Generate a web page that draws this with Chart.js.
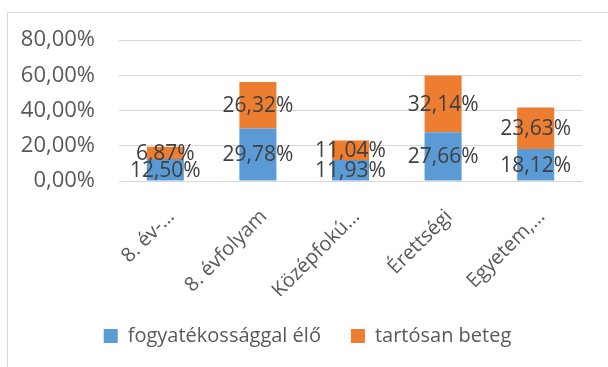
<!DOCTYPE html>
<html lang="hu">
<head>
<meta charset="utf-8">
<script src="https://cdn.jsdelivr.net/npm/chart.js@4/dist/chart.umd.min.js"></script>
<style>
  html, body { margin: 0; padding: 0; background: #fff; }
  #wrap { position: relative; width: 608px; height: 367px; }
</style>
</head>
<body>
<div id="wrap"><canvas id="chart" width="608" height="367"></canvas></div>
<script>
// iskolai végzettség szerinti megoszlás
const categories = ['8. év-…', '8. évfolyam', 'Középfokú…', 'Érettségi', 'Egyetem,…'];
const fogyatekkalElo = [12.50, 29.78, 11.93, 27.66, 18.12];
const tartosanBeteg = [6.87, 26.32, 11.04, 32.14, 23.63];
const yTicks = [0, 20, 40, 60, 80];

const FONT = "'Open Sans', 'Liberation Sans', sans-serif";

function szazalek(v) {
    return v.toFixed(2).replace('.', ',') + '%';
}

// keret a diagram körül
const keretPlugin = {
    id: 'keret',
    beforeDraw(chart) {
        const ctx = chart.ctx;
        ctx.save();
        ctx.fillStyle = '#ffffff';
        ctx.fillRect(0, 0, chart.width, chart.height);
        ctx.strokeStyle = '#d9d9d9';
        ctx.lineWidth = 1;
        ctx.strokeRect(7.5, 12.5, chart.width + 20, chart.height + 20);
        ctx.restore();
    }
};

// a jelmagyarázat a teljes keret közepére kerül
const jelmagyarazatPlugin = {
    id: 'jelmagyarazatKozep',
    afterLayout(chart) {
        const lg = chart.legend;
        const eltolas = (chart.width + 7) / 2 - (lg.left + lg.right) / 2;
        lg.left += eltolas;
        lg.right += eltolas;
    }
};

// értékcímkék a szegmensek közepén
const cimkePlugin = {
    id: 'cimkek',
    afterDatasetsDraw(chart) {
        const ctx = chart.ctx;
        ctx.save();
        ctx.font = '21px ' + FONT;
        ctx.fillStyle = '#404040';
        ctx.textAlign = 'center';
        ctx.textBaseline = 'middle';
        chart.data.datasets.forEach((ds, i) => {
            chart.getDatasetMeta(i).data.forEach((bar, j) => {
                const y = (bar.y + bar.base) / 2;
                ctx.fillText(szazalek(ds.data[j]), bar.x, y + 1);
            });
        });
        ctx.restore();
    }
};

new Chart(document.getElementById('chart'), {
    type: 'bar',
    data: {
        labels: categories,
        datasets: [
            {
                label: 'fogyatékossággal élő',
                data: fogyatekkalElo,
                backgroundColor: '#5b9bd5',
                barPercentage: 0.4,
                categoryPercentage: 1
            },
            {
                label: 'tartósan beteg',
                data: tartosanBeteg,
                backgroundColor: '#ed7d31',
                barPercentage: 0.4,
                categoryPercentage: 1
            }
        ]
    },
    options: {
        responsive: false,
        animation: false,
        layout: {
            padding: { top: 40, right: 26, bottom: 11, left: 0 }
        },
        scales: {
            x: {
                stacked: true,
                grid: { display: false },
                border: { display: false },
                ticks: {
                    autoSkip: false,
                    minRotation: 45,
                    maxRotation: 45,
                    labelOffset: 6,
                    padding: 16,
                    color: '#595959',
                    font: { family: FONT, size: 20 }
                },
                afterFit(scale) { scale.height = 115; }
            },
            y: {
                stacked: true,
                min: 0,
                max: 80,
                afterBuildTicks(scale) {
                    scale.ticks = yTicks.map(v => ({ value: v }));
                },
                grid: { color: '#d9d9d9', lineWidth: 1, drawTicks: false },
                border: { display: false },
                ticks: {
                    padding: 24,
                    color: '#595959',
                    font: { family: FONT, size: 22 },
                    callback: v => szazalek(v)
                },
                afterFit(scale) { scale.width = 119; }
            }
        },
        plugins: {
            legend: {
                position: 'bottom',
                labels: {
                    boxWidth: 14,
                    boxHeight: 14,
                    padding: 30,
                    color: '#595959',
                    font: { family: FONT, size: 20 }
                }
            },
            tooltip: { enabled: false }
        }
    },
    plugins: [keretPlugin, jelmagyarazatPlugin, cimkePlugin]
});
</script>
</body>
</html>
